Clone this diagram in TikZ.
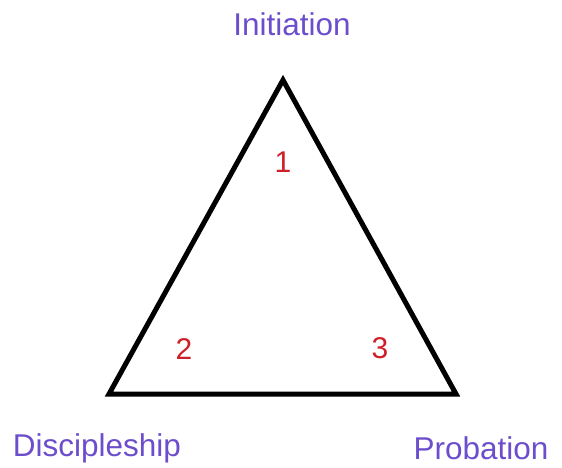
\documentclass[tikz,border=0pt]{standalone}
\usepackage{fontspec}
\setmainfont{Liberation Sans}
\usepackage{xcolor}
\definecolor{stagepurple}{RGB}{108,78,204}
\definecolor{numred}{RGB}{206,32,40}

\begin{document}
\begin{tikzpicture}[x=1pt, y=-1pt,
  stage/.style={text=stagepurple, font=\fontsize{31.5}{36}\selectfont, inner sep=0pt},
  num/.style={text=numred, font=\fontsize{30}{34}\selectfont, inner sep=0pt}]
  \useasboundingbox (0,0) rectangle (562,467);
  % corners of the triangle
  \coordinate (top)   at (283,80);
  \coordinate (left)  at (109,394);
  \coordinate (right) at (456,394);
  \draw[line width=5pt, line join=miter] (top) -- (left) -- (right) -- cycle;
  % stage names
  \node[stage] (init)  at (292,24)  {Initiation};
  \node[stage] (disc)  at (97,448)  {Discipleship};
  \node[stage] (prob)  at (481,448) {Probation};
  % numbers inside
  \node[num] (one)   at (283,162) {1};
  \node[num] (two)   at (184,349) {2};
  \node[num] (three) at (380,348) {3};
\end{tikzpicture}
\end{document}
